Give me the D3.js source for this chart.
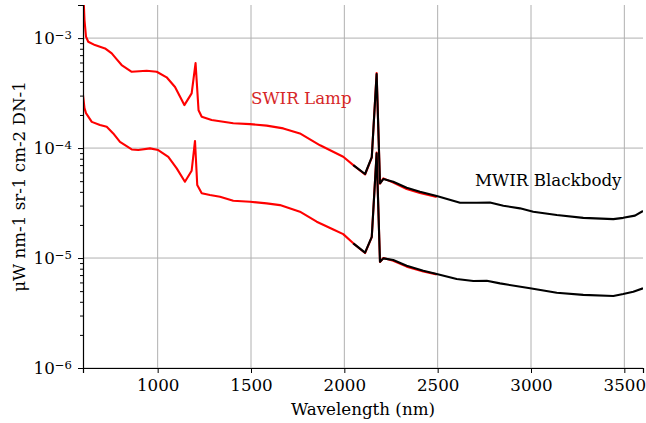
<!DOCTYPE html>
<html>
<head>
<meta charset="utf-8">
<script src="https://cdn.jsdelivr.net/npm/d3@7/dist/d3.min.js"></script>
<style>
  html, body { margin: 0; padding: 0; background: #fff; }
  svg { display: block; }
  svg text { font-family: "DejaVu Serif" !important; }
</style>
</head>
<body>
<svg id="chart" width="646" height="423"></svg>
<script>
// ---------------- data ----------------
const swirUpperWl = [600, 608, 616, 628, 664, 718, 754, 781, 807, 861, 941, 995, 1048, 1093, 1143, 1182, 1203, 1219, 1236, 1289, 1405, 1495, 1584, 1673, 1762, 1870, 1994, 2048, 2111, 2147, 2173, 2191, 2209, 2262, 2334, 2405, 2495];
const swirUpperVal = [3.0e-3, 1.46e-3, 1.03e-3, 9.26e-4, 8.64e-4, 8.06e-4, 7.26e-4, 6.40e-4, 5.69e-4, 4.94e-4, 5.05e-4, 4.94e-4, 4.40e-4, 3.59e-4, 2.46e-4, 3.14e-4, 5.93e-4, 2.21e-4, 1.93e-4, 1.80e-4, 1.68e-4, 1.65e-4, 1.60e-4, 1.51e-4, 1.36e-4, 1.06e-4, 8.33e-5, 7.0e-5, 5.75e-5, 8.2e-5, 4.8e-4, 4.75e-5, 5.3e-5, 4.85e-5, 4.25e-5, 3.9e-5, 3.6e-5];

const swirLowerWl = [600, 608, 616, 647, 691, 727, 762, 798, 861, 896, 959, 1003, 1057, 1102, 1146, 1182, 1200, 1212, 1236, 1280, 1334, 1405, 1495, 1584, 1655, 1762, 1852, 1941, 1994, 2048, 2111, 2147, 2173, 2191, 2209, 2262, 2334, 2423, 2495];
const swirLowerVal = [3.03e-4, 2.31e-4, 2.08e-4, 1.73e-4, 1.62e-4, 1.56e-4, 1.36e-4, 1.14e-4, 9.72e-5, 9.59e-5, 9.93e-5, 9.59e-5, 8.33e-5, 6.54e-5, 4.94e-5, 6.22e-5, 1.16e-4, 4.61e-5, 3.88e-5, 3.74e-5, 3.61e-5, 3.32e-5, 3.25e-5, 3.14e-5, 3.03e-5, 2.64e-5, 2.14e-5, 1.82e-5, 1.65e-5, 1.36e-5, 1.11e-5, 1.55e-5, 9.1e-5, 9.2e-6, 1.0e-5, 9.45e-6, 8.35e-6, 7.55e-6, 7.1e-6];

const mwirUpperWl = [2048, 2111, 2147, 2173, 2191, 2209, 2262, 2334, 2405, 2495, 2620, 2709, 2780, 2852, 2941, 3012, 3138, 3280, 3441, 3494, 3557, 3600];
const mwirUpperVal = [7.0e-5, 5.81e-5, 8.28e-5, 4.71e-4, 4.78e-5, 5.23e-5, 4.94e-5, 4.36e-5, 4.0e-5, 3.66e-5, 3.18e-5, 3.18e-5, 3.2e-5, 2.99e-5, 2.83e-5, 2.64e-5, 2.46e-5, 2.32e-5, 2.26e-5, 2.32e-5, 2.43e-5, 2.68e-5];

const mwirLowerWl = [2048, 2111, 2147, 2173, 2191, 2209, 2262, 2334, 2423, 2495, 2602, 2691, 2763, 2834, 2995, 3138, 3280, 3441, 3494, 3548, 3600];
const mwirLowerVal = [1.36e-5, 1.12e-5, 1.56e-5, 8.95e-5, 9.25e-6, 9.93e-6, 9.59e-6, 8.51e-6, 7.67e-6, 7.16e-6, 6.45e-6, 6.18e-6, 6.22e-6, 5.88e-6, 5.31e-6, 4.84e-6, 4.62e-6, 4.52e-6, 4.71e-6, 4.94e-6, 5.31e-6];

const xTicks = [1000, 1500, 2000, 2500, 3000, 3500];
const yTickExponents = [-6, -5, -4, -3];
const xDomain = [600, 3600];
const yDomain = [1e-6, 2e-3];

const labels = [
  { text: "SWIR Lamp", x: 1500, y: 2.5e-4, color: "#d62728" },
  { text: "MWIR Blackbody", x: 2700, y: 4.5e-5, color: "#000000" }
];

// ---------------- layout ----------------
const W = 646, H = 423;
const margin = { left: 83, right: 3, top: 5, bottom: 55 };
const iw = W - margin.left - margin.right;
const ih = H - margin.top - margin.bottom;
const FONT = "DejaVu Serif";
const FS = 16.7;

const svg = d3.select("#chart");
const g = svg.append("g").attr("transform", `translate(${margin.left},${margin.top})`);

const x = d3.scaleLinear().domain(xDomain).range([0, iw]);
const y = d3.scaleLog().domain(yDomain).range([ih, 0]);

svg.append("defs").append("clipPath").attr("id", "clip")
  .append("rect").attr("x", 0).attr("y", 0).attr("width", iw).attr("height", ih);

// grid
const majorY = yTickExponents.map(e => Math.pow(10, e));
g.append("g").selectAll("line").data(xTicks).join("line")
  .attr("x1", d => x(d)).attr("x2", d => x(d)).attr("y1", 0).attr("y2", ih)
  .attr("stroke", "#b0b0b0").attr("stroke-width", 1);
g.append("g").selectAll("line").data(majorY).join("line")
  .attr("x1", 0).attr("x2", iw).attr("y1", d => y(d)).attr("y2", d => y(d))
  .attr("stroke", "#b0b0b0").attr("stroke-width", 1);

// lines
const line = d3.line().x(d => x(d[0])).y(d => y(d[1]));
const zip = (a, b) => a.map((v, i) => [v, b[i]]);
const plot = g.append("g").attr("clip-path", "url(#clip)");
[[swirUpperWl, swirUpperVal], [swirLowerWl, swirLowerVal]].forEach(([w, v]) => {
  plot.append("path").datum(zip(w, v)).attr("d", line)
    .attr("fill", "none").attr("stroke", "#ff0000").attr("stroke-width", 2.1)
    .attr("stroke-linejoin", "round");
});
[[mwirUpperWl, mwirUpperVal], [mwirLowerWl, mwirLowerVal]].forEach(([w, v]) => {
  plot.append("path").datum(zip(w, v)).attr("d", line)
    .attr("fill", "none").attr("stroke", "#000000").attr("stroke-width", 2.1)
    .attr("stroke-linejoin", "round");
});

// annotations
g.append("g").selectAll("text").data(labels).join("text")
  .attr("x", d => x(d.x)).attr("y", d => y(d.y))
  .attr("fill", d => d.color).style("font-size", FS + "px").style("font-family", FONT)
  .text(d => d.text);

// x axis
const xAxis = g.append("g").attr("transform", `translate(0,${ih})`)
  .call(d3.axisBottom(x).tickValues(xTicks).tickSize(5).tickPadding(6).tickFormat(d3.format("d")));
xAxis.attr("font-family", FONT);
xAxis.select(".domain").attr("stroke", "#000").attr("stroke-width", 1.2);
xAxis.selectAll("text").style("font-size", FS + "px").attr("fill", "#000").style("font-family", FONT);

// y axis minor ticks
const minorY = [];
yTickExponents.forEach(e => { for (let k = 2; k <= 9; k++) { const v = k * Math.pow(10, e); if (v <= yDomain[1]) minorY.push(v); } });
g.append("g").call(d3.axisLeft(y).tickValues(minorY).tickSize(3).tickFormat(""))
  .call(s => s.select(".domain").remove());

const yAxis = g.append("g")
  .call(d3.axisLeft(y).tickValues(majorY).tickSize(5).tickPadding(6).tickFormat(() => ""));
yAxis.attr("font-family", FONT);
yAxis.select(".domain").attr("stroke", "#000").attr("stroke-width", 1.2);
yAxis.selectAll(".tick text").each(function(d) {
  const t = d3.select(this).style("font-size", FS + "px").attr("fill", "#000").style("font-family", FONT);
  t.append("tspan").text("10");
  t.append("tspan").attr("dy", "-0.45em").style("font-size", (FS * 0.7) + "px").text("\u2212" + Math.abs(Math.round(Math.log10(d))));
});

// axis titles
svg.append("text")
  .attr("x", margin.left + iw / 2).attr("y", 415)
  .attr("text-anchor", "middle").style("font-size", FS + "px").style("font-family", FONT).attr("fill", "#000")
  .text("Wavelength (nm)");
svg.append("text")
  .attr("transform", `translate(19,${margin.top + ih / 2}) rotate(-90)`)
  .attr("text-anchor", "middle").attr("dy", "0.35em").style("font-size", FS + "px").style("font-family", FONT).attr("fill", "#000")
  .text("\u03bcW nm-1 sr-1 cm-2 DN-1");
</script>
</body>
</html>
